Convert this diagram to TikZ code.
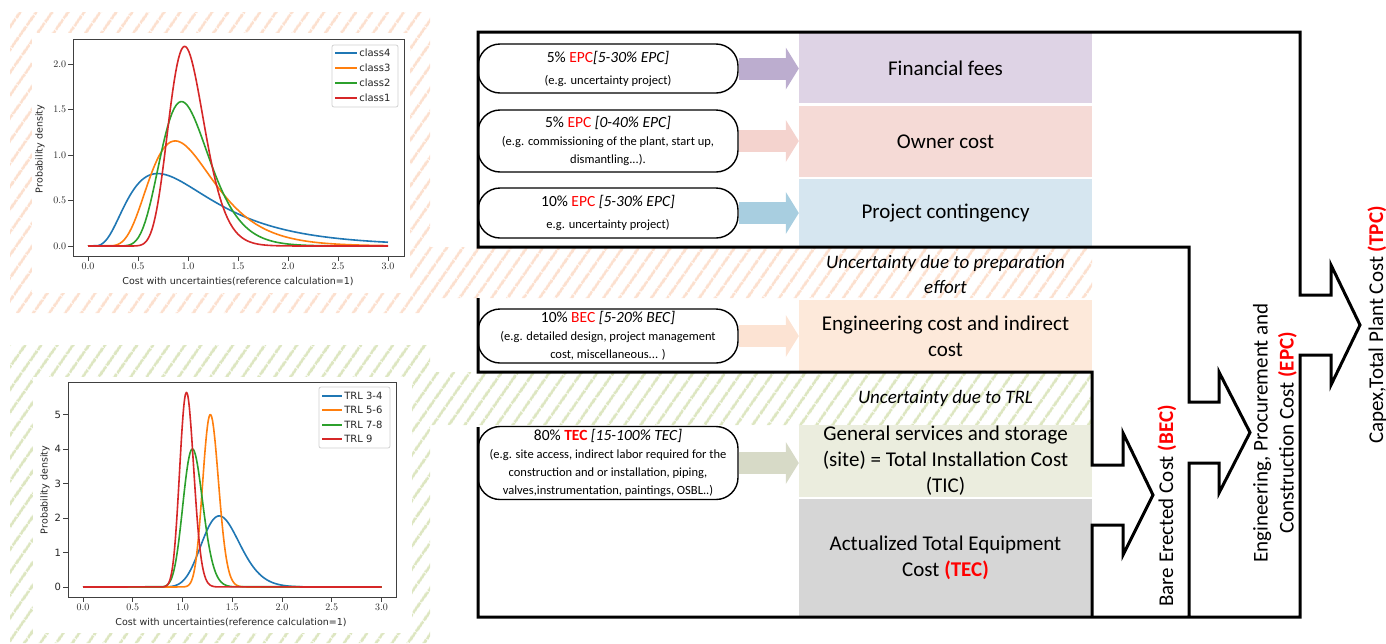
\documentclass[tikz,border=0pt]{standalone}
\usepackage{fontspec}
\setmainfont{Carlito}
\newfontfamily\plotfont{DejaVu Sans}
\usetikzlibrary{arrows.meta,positioning,patterns.meta}
\definecolor{finfill}{RGB}{222,211,229}
\definecolor{finarrow}{RGB}{188,173,207}
\definecolor{ownfill}{RGB}{245,218,214}
\definecolor{ownarrow}{RGB}{244,211,206}
\definecolor{contfill}{RGB}{214,230,240}
\definecolor{contarrow}{RGB}{168,206,224}
\definecolor{engfill}{RGB}{253,233,218}
\definecolor{engarrow}{RGB}{252,227,211}
\definecolor{ticfill}{RGB}{235,237,222}
\definecolor{ticarrow}{RGB}{215,218,199}
\definecolor{tecfill}{RGB}{214,214,214}
\definecolor{hatchorange}{RGB}{252,224,207}
\definecolor{hatchgreen}{RGB}{221,230,193}
\definecolor{mplblue}{RGB}{31,119,180}
\definecolor{mplorange}{RGB}{255,127,14}
\definecolor{mplgreen}{RGB}{44,160,44}
\definecolor{mplred}{RGB}{214,39,40}

\begin{document}
\begin{tikzpicture}[x=1pt,y=-1pt,
 declare function={lnpdf(\vx,\vm,\vs)=exp(0-((ln(\vx)-\vm)*(ln(\vx)-\vm))/(2*\vs*\vs))/(\vx*\vs*2.5066);},
 pill/.style={draw,line width=1.4pt,rounded corners=22pt,fill=white,minimum width=260pt,inner sep=1pt,align=center,font=\fontsize{12.5}{18}\selectfont},
 costbox/.style={fill=#1,minimum width=293pt,inner sep=0pt,align=center,font=\fontsize{21}{26}\selectfont},
 flow/.style={draw=#1,line width=22pt,-{Triangle[length=13pt,width=42pt,line width=0pt]}},
 bracket/.style={line width=3pt,line join=miter},
 hatch/.style={pattern={Lines[angle=55,distance=13pt,line width=3pt]},pattern color=#1},
 note/.style={align=center,font=\fontsize{19}{25}\selectfont\itshape},
 vlabel/.style={rotate=90,align=center,font=\fontsize{21}{26}\selectfont},
 pdfline/.style={draw=#1,line width=1.6pt,line join=round},
 ticklbl/.style={font=\plotfont\fontsize{10}{12}\selectfont,text=black!85,inner sep=1.5pt},
 axlabel/.style={font=\plotfont\fontsize{9.5}{11}\selectfont,text=black!85},
 legbox/.style={draw=black!18,fill=white,rounded corners=2pt,line width=0.8pt}]
\useasboundingbox (0,0) rectangle (1386,643);

\path[hatch=hatchorange] (10,12) rectangle (430,313) (430,247) rectangle (1092,298);
\path[hatch=hatchgreen] (10,345) rectangle (430,643) (430,372) rectangle (1092,425);
\fill[white] (32,33) rectangle (410,293);
\fill[white] (33,377) rectangle (412,633);

\draw[black!75,line width=1pt] (73,39) rectangle (404,256);
\foreach \v [count=\i] in {0,0.5,...,3}
  \draw[black!75,line width=0.8pt] ({88+100*\v},256) -- ++(0,5) node[below,ticklbl] (xa\i) {\pgfmathprintnumber[fixed,fixed zerofill,precision=1]{\v}};
\foreach \v [count=\i] in {0,0.5,...,2}
  \draw[black!75,line width=0.8pt] (73,{246-91*\v}) -- ++(-5,0) node[left,ticklbl] (ya\i) {\pgfmathprintnumber[fixed,fixed zerofill,precision=1]{\v}};
\begin{scope}[shift={(88,246)},x=100pt,y=91pt]
 \draw[pdfline=mplblue] (0,0) -- plot[domain=0.1:3,samples=120] (\x,{lnpdf(\x,0,0.6)});
 \draw[pdfline=mplorange] (0,0) -- plot[domain=0.25:3,samples=120] (\x,{lnpdf(\x,0,0.37)});
 \draw[pdfline=mplgreen] (0,0) -- plot[domain=0.35:3,samples=120] (\x,{lnpdf(\x,0,0.26)});
 \draw[pdfline=mplred] (0,0) -- plot[domain=0.45:2.2,samples=120] (\x,{lnpdf(\x,0,0.185)}) -- (3,0);
\end{scope}
\node[legbox,minimum width=66pt,minimum height=62pt] (lega) at (365,76) {};
\foreach \c/\n/\h in {mplblue/class4/53,mplorange/class3/68,mplgreen/class2/83,mplred/class1/98}
  \draw[pdfline=\c] (335,\h) -- (357,\h) node[right,ticklbl] (lga\h) {\n};
\node[axlabel] (xla) at (238,282) {Cost with uncertainties(reference calculation=1)};
\node[axlabel,rotate=90] (yla) at (40,149) {Probability density};

\draw[black!75,line width=1pt] (68,382) rectangle (396,597);
\foreach \v [count=\i] in {0,0.5,...,3}
  \draw[black!75,line width=0.8pt] ({83+99.5*\v},597) -- ++(0,5) node[below,ticklbl] (xb\i) {\pgfmathprintnumber[fixed,fixed zerofill,precision=1]{\v}};
\foreach \v [count=\i] in {0,...,5}
  \draw[black!75,line width=0.8pt] (68,{587-34.5*\v}) -- ++(-5,0) node[left,ticklbl] (yb\i) {\v};
\begin{scope}[shift={(83,587)},x=99.5pt,y=34.5pt]
 \draw[pdfline=mplblue] (0,0) -- plot[domain=0.85:2.4,samples=120] (\x,{lnpdf(\x,0.334,0.14)}) -- (3,0);
 \draw[pdfline=mplorange] (0,0) -- plot[domain=1.0:1.65,samples=100] (\x,{lnpdf(\x,0.2508,0.0623)}) -- (3,0);
 \draw[pdfline=mplgreen] (0,0) -- plot[domain=0.8:1.5,samples=100] (\x,{lnpdf(\x,0.1035,0.0903)}) -- (3,0);
 \draw[pdfline=mplred] (0,0) -- plot[domain=0.8:1.35,samples=100] (\x,{lnpdf(\x,0.0438,0.0679)}) -- (3,0);
\end{scope}
\node[legbox,minimum width=71pt,minimum height=61pt] (legb) at (354.5,417.5) {};
\foreach \c/\n/\h in {mplblue/TRL 3-4/396,mplorange/TRL 5-6/410,mplgreen/TRL 7-8/425,mplred/TRL 9/439}
  \draw[pdfline=\c] (322,\h) -- (342,\h) node[right,ticklbl] (lgb\h) {\n};
\node[axlabel] (xlb) at (231,623) {Cost with uncertainties(reference calculation=1)};
\node[axlabel,rotate=90] (ylb) at (45,490) {Probability density};

\node[costbox=finfill,minimum height=70pt] (fin) at (945.5,68) {Financial fees};
\node[costbox=ownfill,minimum height=71pt] (owner) at (945.5,141.5) {Owner cost};
\node[costbox=contfill,minimum height=68pt] (cont) at (945.5,213) {Project contingency};
\node[costbox=engfill,minimum height=72pt] (eng) at (945.5,336) {Engineering cost and indirect\\cost};
\node[costbox=ticfill,minimum height=72pt] (tic) at (945.5,461) {General services and storage\\(site) = Total Installation Cost\\(TIC)};
\node[costbox=tecfill,minimum height=117pt] (tec) at (945.5,557.5) {Actualized Total Equipment\\Cost \textcolor{red}{\textbf{(TEC)}}};

\node[pill,minimum height=49pt] (pfin) at (608,68.5) {{\fontsize{15.5}{18}\selectfont 5\% \textcolor{red}{EPC}\textit{[5-30\% EPC]}}\\[4pt](e.g. uncertainty project)};
\node[pill,minimum height=62pt] (powner) at (608,141) {{\fontsize{15.5}{18}\selectfont 5\% \textcolor{red}{EPC} \textit{[0-40\% EPC]}}\\(e.g. commissioning of the plant, start up,\\dismantling...).};
\node[pill,minimum height=50pt] (pcont) at (608,213) {{\fontsize{15.5}{18}\selectfont 10\% \textcolor{red}{EPC} \textit{[5-30\% EPC]}}\\[4pt]e.g. uncertainty project)};
\node[pill,minimum height=54pt] (peng) at (608,336) {{\fontsize{15.5}{18}\selectfont 10\% \textcolor{red}{BEC} \textit{[5-20\% BEC]}}\\(e.g. detailed design, project management\\cost, miscellaneous... )};
\node[pill,minimum height=73pt] (ptic) at (608,463) {{\fontsize{15.5}{18}\selectfont 80\% \textcolor{red}{\textbf{TEC}} \textit{[15-100\% TEC]}}\\(e.g. site access, indirect labor required for the\\construction and or installation, piping,\\valves,instrumentation, paintings, OSBL..)};

\draw[flow=finarrow] (pfin.east) -- (pfin.east -| fin.west);
\draw[flow=ownarrow] (powner.east) -- (powner.east -| owner.west);
\draw[flow=contarrow] (pcont.east) -- (pcont.east -| cont.west);
\draw[flow=engarrow] (peng.east) -- (peng.east -| eng.west);
\draw[flow=ticarrow] (ptic.east) -- (ptic.east -| tic.west);

\coordinate (tpctip) at (1360,325);
\coordinate (epctip) at (1250,432.5);
\coordinate (bectip) at (1153,495);
\draw[bracket] (1189,617) -- (1189,463) -- (1219,463) -- (1219,493) -- (epctip) -- (1219,372) -- (1219,402) -- (1189,402) -- (1189,247) -- (478,247) -- (478,32) -- (1300,32) -- (1300,295) -- (1331,295) -- (1331,265) -- (tpctip) -- (1331,385) -- (1331,355) -- (1300,355) -- (1300,617) -- (478,617) -- (478,427);
\draw[bracket] (478,298) -- (478,372) -- (1092,372) -- (1092,465) -- (1123,465) -- (1123,433) -- (bectip) -- (1123,555) -- (1123,525) -- (1092,525) -- (1092,617);

\node[note] (prep) at (945.5,274) {Uncertainty due to preparation\\effort};
\node[note] (trl) at (945.5,398) {Uncertainty due to TRL};
\node[vlabel] (beclbl) at (1167,506) {Bare Erected Cost \textcolor{red}{\textbf{(BEC)}}};
\node[vlabel] (epclbl) at (1275,433) {Engineering, Procurement and\\Construction Cost \textcolor{red}{\textbf{(EPC)}}};
\node[vlabel] (tpclbl) at (1377,325) {Capex,Total Plant Cost \textcolor{red}{\textbf{(TPC)}}};
\end{tikzpicture}
\end{document}
